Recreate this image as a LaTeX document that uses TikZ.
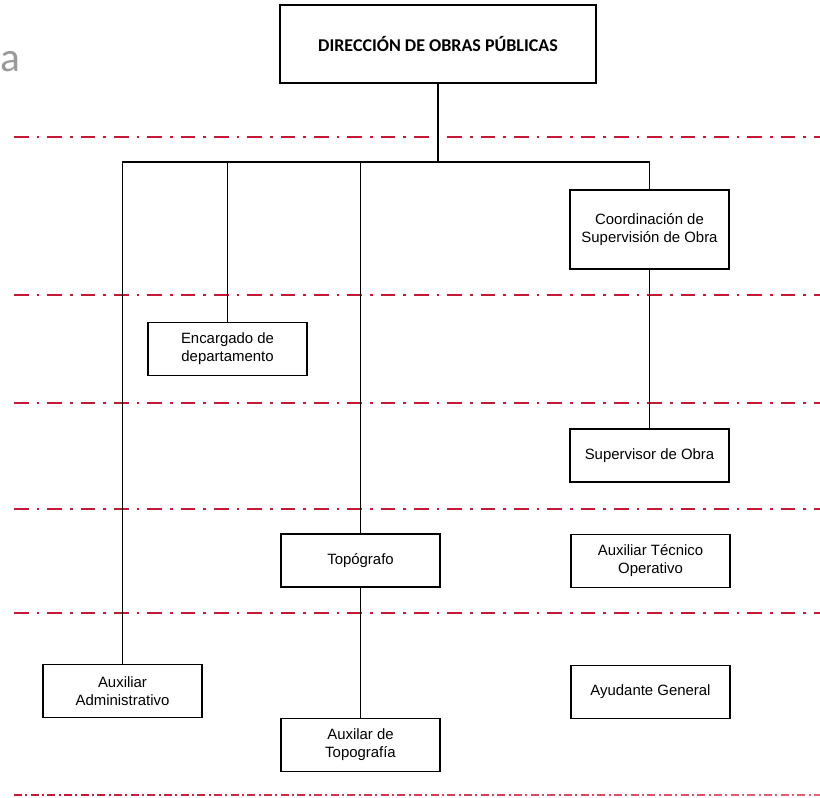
\documentclass[tikz,border=0pt]{standalone}
\usepackage{fontspec}
\setmainfont{Liberation Sans}
\newfontfamily\calibri{Carlito}
\usetikzlibrary{calc}

\definecolor{rayarojo}{RGB}{195,25,55}
\definecolor{rayarosa}{RGB}{235,120,140}

\tikzset{
	caja/.style={draw, line width=1.1pt, minimum width=119pt, minimum height=40pt, inner sep=0pt, align=center, font=\fontsize{11.2}{13.5}\selectfont},
	titulo/.style={caja, minimum width=237pt, minimum height=58.5pt, font=\calibri\bfseries\fontsize{13.5}{16}\selectfont},
	linea/.style={line width=0.9pt},
	raya/.style={rayarojo, line width=1.5pt, dash pattern=on 11pt off 6pt on 2pt off 6pt},
	rayafina/.style={line width=1.5pt, dash pattern=on 6pt off 2.5pt on 1.5pt off 2.5pt}
}

\begin{document}
\begin{tikzpicture}[x=0.75pt, y=-0.75pt]
	\useasboundingbox (0,0) rectangle (820,798);

	\node[anchor=base west, inner sep=0pt, text=gray!80, font=\calibri\fontsize{31}{31}\selectfont] (letra) at (0.5,72) {a};

	% rayas
	\foreach \y in {137, 295, 403, 509, 613}
		\draw[raya] (14, \y) -- (820, \y);
	\foreach \i in {0,...,8}
		\draw[rayafina, rayarojo!\the\numexpr 100-10*\i\relax!rayarosa] (14+100*\i, 795) -- (114+100*\i, 795);

	% cajas
	\node[titulo] (dir) at (438, 44) {DIRECCIÓN DE OBRAS PÚBLICAS};
	\node[caja, minimum height=59.25pt] (coord) at (649.5, 229.5) {Coordinación de\\Supervisión de Obra};
	\node[caja] (enc) at (227.5, 349) {Encargado de\\departamento};
	\node[caja] (sup) at (649.5, 455.5) {Supervisor de Obra};
	\node[caja] (topo) at (360.5, 560.5) {Topógrafo};
	\node[caja] (atec) at (650.5, 561) {Auxiliar Técnico\\Operativo};
	\node[caja] (auxadm) at (122.5, 691) {Auxiliar\\Administrativo};
	\node[caja] (ayud) at (650.5, 692) {Ayudante General};
	\node[caja] (auxtop) at (360.5, 745) {Auxilar de\\Topografía};

	% conectores
	\coordinate (barra) at (438, 162);
	\draw[linea] (dir.south) -- (barra);
	\draw[linea] (auxadm.north) -- (auxadm.north |- barra) -| (coord.north);
	\draw[linea] (enc.north) -- (enc.north |- barra);
	\draw[linea] (topo.north) -- (topo.north |- barra);
	\draw[linea] (coord.south) -- (sup.north);
	\draw[linea] (topo.south) -- (auxtop.north);
\end{tikzpicture}
\end{document}
